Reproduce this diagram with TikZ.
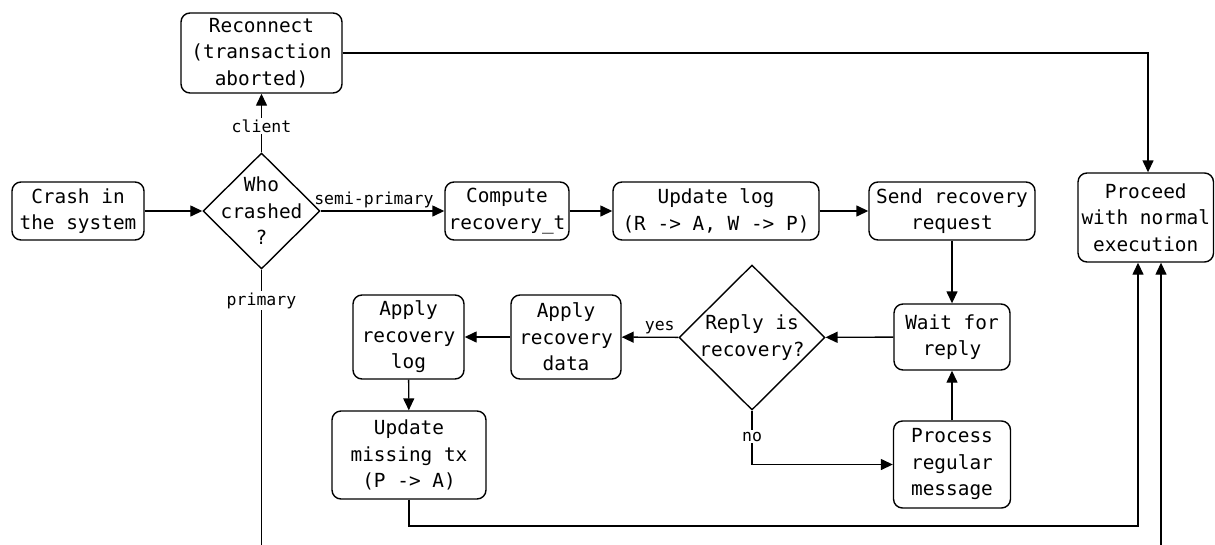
\documentclass[tikz,border=0pt]{standalone}
\usepackage{fontspec}
\setmonofont{DejaVu Sans Mono}
\usetikzlibrary{shapes.geometric, arrows.meta}
\begin{document}
\begin{tikzpicture}[x=1pt, y=-1pt,
  box/.style={draw, line width=1.4pt, rounded corners=9pt, align=center,
    inner sep=0pt, font=\fontsize{19.4}{26.5}\selectfont\ttfamily},
  dia/.style={draw, diamond, line width=1.4pt, inner sep=0pt},
  diatext/.style={align=center, inner sep=0pt,
    font=\fontsize{19.4}{26.5}\selectfont\ttfamily},
  lbl/.style={inner sep=1.5pt, font=\fontsize{16.5}{20}\selectfont\ttfamily},
  conn/.style={line width=1.4pt, -{Triangle[length=12pt, width=11pt]}}]

\useasboundingbox (0,0) rectangle (1215,544);

% process steps
\node[box, minimum width=161, minimum height=80] (reconnect) at (261.5,53)
  {Reconnect\\(transaction\\aborted)};
\node[box, minimum width=132, minimum height=58] (crash) at (78,211)
  {Crash in\\the system};
\node[box, minimum width=124, minimum height=58] (compute) at (507,211)
  {Compute\\recovery\_t};
\node[box, minimum width=206, minimum height=58] (updlog) at (716,211)
  {Update log\\(R -> A, W -> P)};
\node[box, minimum width=166, minimum height=58] (send) at (952,211)
  {Send recovery\\request};
\node[box, minimum width=135.5, minimum height=89] (proceed) at (1145.75,217.5)
  {Proceed\\with normal\\execution};
\node[box, minimum width=116, minimum height=66] (wait) at (952,337)
  {Wait for\\reply};
\node[box, minimum width=110, minimum height=84] (applydata) at (566,337)
  {Apply\\recovery\\data};
\node[box, minimum width=111, minimum height=84] (applylog) at (408.5,337)
  {Apply\\recovery\\log};
\node[box, minimum width=154, minimum height=88] (updmiss) at (409,455)
  {Update\\missing tx\\(P -> A)};
\node[box, minimum width=117, minimum height=87] (process) at (952,464.5)
  {Process\\regular\\message};

% decisions
\node[dia, minimum width=117, minimum height=116] (who) at (261.5,211) {};
\node[diatext] at (who) {Who\\crashed\\?};
\node[dia, minimum width=146, minimum height=145] (reply) at (752,337.5) {};
\node[diatext] at (reply) {Reply is\\recovery?};

% connectors
\draw[conn] (crash) -- (who);
\draw[conn] (who) -- node[lbl, fill=white, pos=0.45] {client} (reconnect);
\draw[conn] (who) -- node[lbl, above=1pt, pos=0.43] {semi-primary} (compute);
\draw[conn] (compute) -- (updlog);
\draw[conn] (updlog) -- (send);
\draw[conn] (send) -- (wait);
\draw[conn] (wait) -- (reply);
\draw[conn] (reply) -- node[lbl, above=1pt, pos=0.33] {yes} (applydata);
\draw[conn] (applydata) -- (applylog);
\draw[conn] (applylog) -- (updmiss);
\draw[conn] (reply.south) |- node[lbl, fill=white, pos=0.24] {no} (process.west);
\draw[conn] (process) -- (wait);
\draw[conn] (updmiss.south) -- (updmiss.south |- 0,526)
  -| ([xshift=-7.75pt]proceed.south);
\draw[conn] (reconnect.east) -| ([xshift=2.25pt]proceed.north);

\begin{scope}
  \clip (0,0) rectangle (1215,544);
  \draw[conn] (who.south) -- node[lbl, fill=white, pos=0.1] {primary}
    (who.south |- 0,580) -| ([xshift=15.25pt]proceed.south);
\end{scope}
\end{tikzpicture}
\end{document}
